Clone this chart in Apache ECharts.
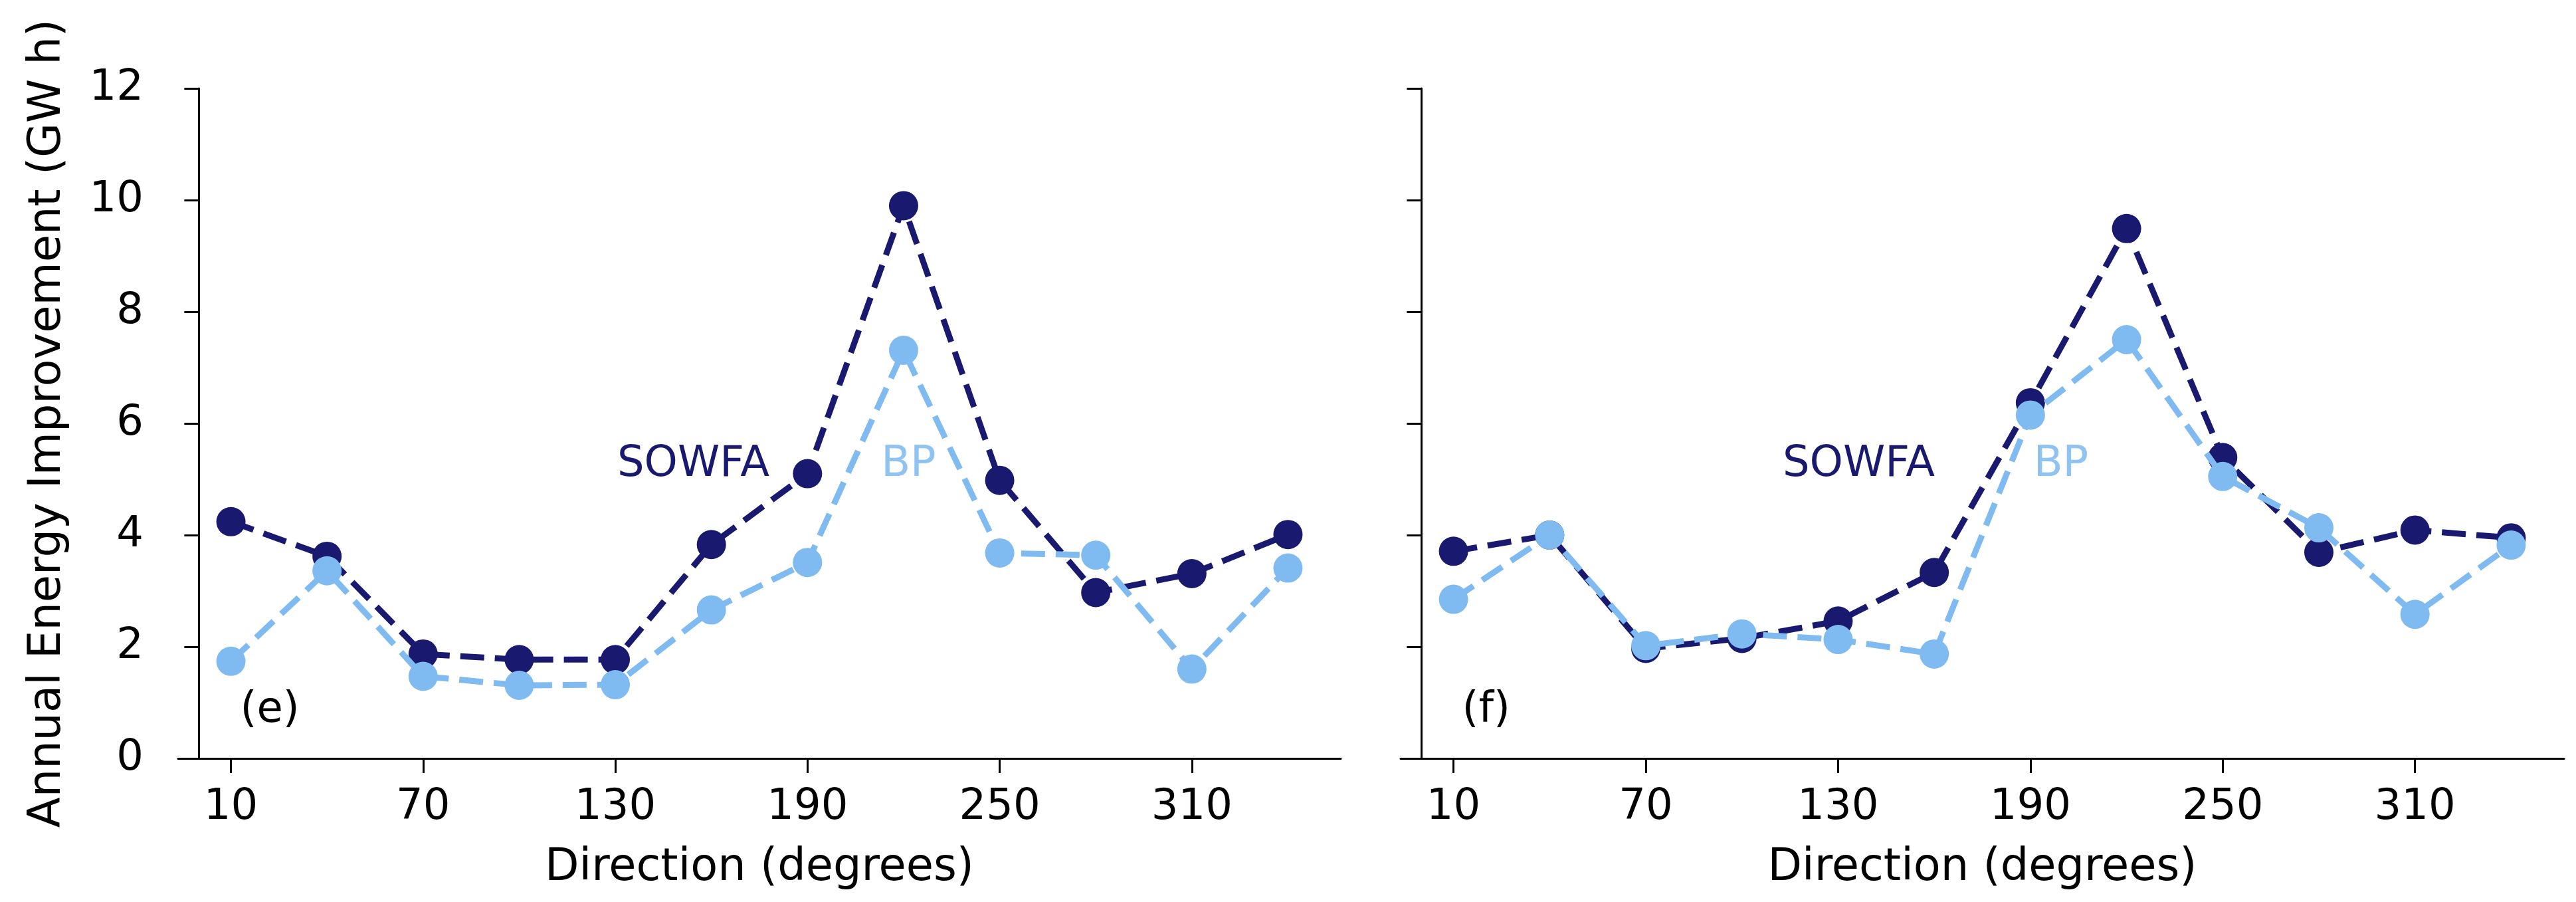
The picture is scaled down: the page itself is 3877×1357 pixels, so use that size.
<!DOCTYPE html>
<html>
<head>
<meta charset="utf-8">
<script src="https://cdn.jsdelivr.net/npm/echarts@6/dist/echarts.min.js"></script>
<style>
html,body{margin:0;padding:0;background:#fff;}
#chart{width:3877px;height:1357px;}
</style>
</head>
<body>
<div id="chart"></div>
<script>
// ---- data ----
const directions = [10, 40, 70, 100, 130, 160, 190, 220, 250, 280, 310, 340];
const xTicks = [10, 70, 130, 190, 250, 310];
const yTicks = [0, 2, 4, 6, 8, 10, 12];
const sowfaE = [4.24, 3.62, 1.87, 1.77, 1.77, 3.83, 5.10, 9.90, 4.98, 2.97, 3.31, 4.01];
const bpE    = [1.74, 3.36, 1.47, 1.31, 1.32, 2.66, 3.51, 7.31, 3.68, 3.64, 1.60, 3.41];
const sowfaF = [3.71, 4.00, 1.97, 2.15, 2.46, 3.33, 6.37, 9.49, 5.39, 3.69, 4.09, 3.95];
const bpF    = [2.85, 4.00, 2.02, 2.23, 2.13, 1.87, 6.15, 7.50, 5.05, 4.13, 2.58, 3.82];
const panelTags = ['(e)', '(f)'];
const seriesNames = ['SOWFA', 'BP'];
const xTitle = 'Direction (degrees)';
const yTitle = 'Annual Energy Improvement (GW h)';

// ---- styling ----
const FONT = 'DejaVu Sans';
const C_SOWFA = '#191970';
const C_BP = '#7fbaf0';
const C_BP_TEXT = '#8fc3f2';

const chart = echarts.init(document.getElementById('chart'), null, {renderer: 'canvas'});

function xAxisCfg(gi) {
  return {
    type: 'value', gridIndex: gi, min: -6.5, max: 356.5,
    name: xTitle, nameLocation: 'middle', nameGap: 132,
    nameTextStyle: {fontFamily: FONT, fontSize: 67, color: '#000'},
    axisLine: {show: true, onZero: false, lineStyle: {color: '#000', width: 3}},
    axisTick: {show: true, length: 22, lineStyle: {color: '#000', width: 3}, customValues: xTicks},
    axisLabel: {fontFamily: FONT, fontSize: 64, color: '#000', margin: 42, customValues: xTicks},
    splitLine: {show: false}
  };
}
function yAxisCfg(gi, showLabels) {
  return {
    type: 'value', gridIndex: gi, min: 0, max: 12, interval: 2,
    name: showLabels ? yTitle : '', nameLocation: 'middle', nameGap: 162,
    nameTextStyle: {fontFamily: FONT, fontSize: 67, color: '#000'},
    axisLine: {show: true, lineStyle: {color: '#000', width: 3}},
    axisTick: {show: true, length: 22, lineStyle: {color: '#000', width: 3}},
    axisLabel: {show: showLabels, fontFamily: FONT, fontSize: 64, color: '#000', margin: 52},
    splitLine: {show: false}
  };
}
function lineSeries(name, gi, ys, color, z) {
  return {
    name: name, type: 'line', xAxisIndex: gi, yAxisIndex: gi,
    data: directions.map((d, i) => [d, ys[i]]),
    symbol: 'circle', symbolSize: 44, z: z,
    itemStyle: {color: color},
    lineStyle: {color: color, width: 9, type: [36, 16]},
    animation: false
  };
}

chart.setOption({
  backgroundColor: '#fff',
  animation: false,
  grid: [
    {left: 268, top: 133, width: 1750, height: 1008},
    {left: 2108, top: 133, width: 1751, height: 1008}
  ],
  xAxis: [xAxisCfg(0), xAxisCfg(1)],
  yAxis: [yAxisCfg(0, true), yAxisCfg(1, false)],
  series: [
    lineSeries(seriesNames[0], 0, sowfaE, C_SOWFA, 2),
    lineSeries(seriesNames[1], 0, bpE, C_BP, 3),
    lineSeries(seriesNames[0], 1, sowfaF, C_SOWFA, 2),
    lineSeries(seriesNames[1], 1, bpF, C_BP, 3)
  ]
});

// annotation text placed in data coordinates of each panel
const annotations = [
  {gi: 0, x: 130.6, y: 5.26, text: seriesNames[0], color: C_SOWFA},
  {gi: 0, x: 213, y: 5.26, text: seriesNames[1], color: C_BP_TEXT},
  {gi: 1, x: 112.7, y: 5.26, text: seriesNames[0], color: C_SOWFA},
  {gi: 1, x: 191, y: 5.26, text: seriesNames[1], color: C_BP_TEXT},
  {gi: 0, x: 12.9, y: 0.85, text: panelTags[0], color: '#000'},
  {gi: 1, x: 12.7, y: 0.85, text: panelTags[1], color: '#000'}
];
const graphics = annotations.map(a => {
  const p = chart.convertToPixel({gridIndex: a.gi}, [a.x, a.y]);
  return {
    type: 'text', x: p[0], y: p[1], z: 10,
    style: {text: a.text, fill: a.color, font: '64px "' + FONT + '"', align: 'left', verticalAlign: 'middle'}
  };
});
chart.setOption({graphic: graphics});
</script>
</body>
</html>
